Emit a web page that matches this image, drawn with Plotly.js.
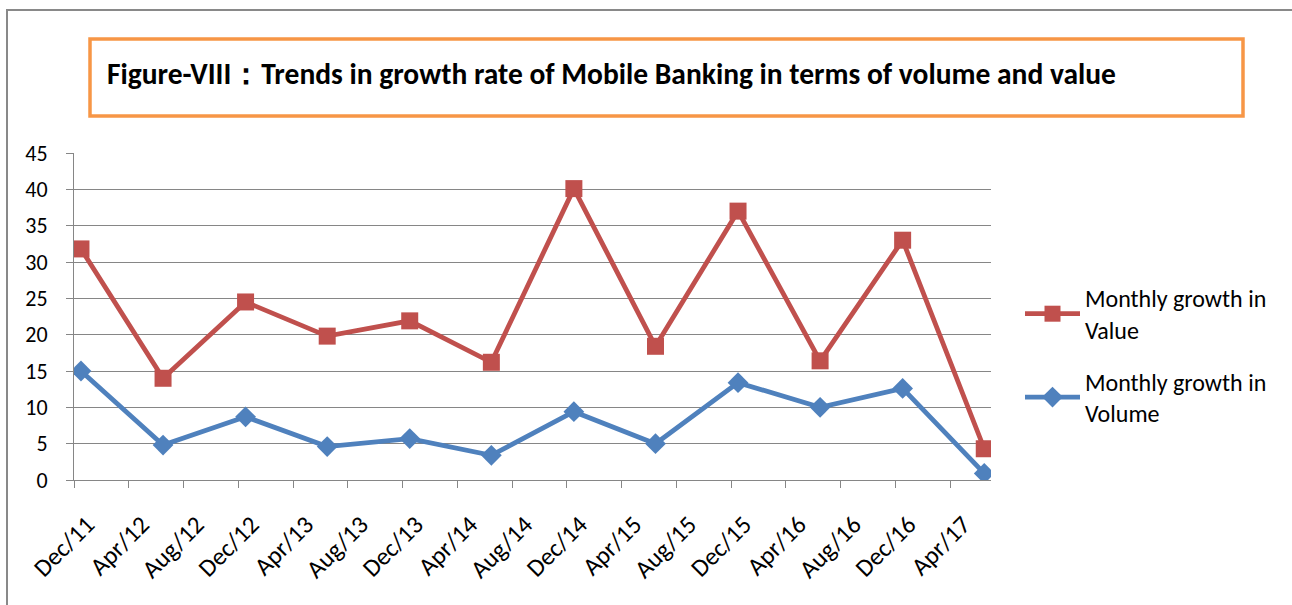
<!DOCTYPE html>
<html>
<head>
<meta charset="utf-8">
<script src="https://cdn.plot.ly/plotly-3.0.1.min.js"></script>
<style>
html,body{margin:0;padding:0;background:#fff;}
#chart{width:1292px;height:605px;}
</style>
</head>
<body>
<div id="chart"></div>
<script>
// Data (semi-annual observations)
var months = ['2011-12-01','2012-06-01','2012-12-01','2013-06-01','2013-12-01','2014-06-01',
              '2014-12-01','2015-06-01','2015-12-01','2016-06-01','2016-12-01','2017-06-01'];
var valueGrowth  = [31.8, 14.0, 24.5, 19.8, 21.9, 16.2, 40.1, 18.4, 37.0, 16.4, 33.0, 4.3];
var volumeGrowth = [15.0, 4.8, 8.7, 4.6, 5.7, 3.4, 9.4, 5.0, 13.4, 10.0, 12.6, 0.9];
var seriesNames = ['Monthly growth in<br>Value', 'Monthly growth in<br>Volume'];
var titleText = 'Figure-VIII\uFF1ATrends in growth rate of Mobile Banking in terms of volume and value';

var W = 1292, H = 605;
var M = {l: 74, r: W - 991, t: 153, b: H - 480};
var pw = W - M.l - M.r, ph = H - M.t - M.b;
function px(x){ return (x - M.l) / pw; }
function py(y){ return (H - M.b - y) / ph; }

var FONT = 'Carlito, Lato, "Noto Sans", sans-serif';

var traces = [
  {
    x: months, y: valueGrowth, name: seriesNames[0], type: 'scatter', mode: 'lines+markers',
    xperiod: 'M1', xperiodalignment: 'middle', legendgroup: 'a',
    line: {color: '#C0504D', width: 4.8},
    marker: {symbol: 'square', size: 17, color: '#C0504D'}
  },
  {
    x: months, y: volumeGrowth, name: seriesNames[1], type: 'scatter', mode: 'lines+markers',
    xperiod: 'M1', xperiodalignment: 'middle', legendgroup: 'b',
    line: {color: '#4F81BD', width: 4.8},
    marker: {symbol: 'diamond', size: 16, color: '#4F81BD'}
  }
];

var layout = {
  width: W, height: H,
  margin: M,
  paper_bgcolor: '#fff', plot_bgcolor: '#fff',
  font: {family: FONT, color: '#000'},
  showlegend: true,
  title: {
    text: '<b>' + titleText + '</b>',
    xref: 'container', yref: 'container',
    x: 107 / W, xanchor: 'left',
    y: 1 - 74 / H, yanchor: 'middle',
    font: {family: FONT, size: 29.5, color: '#000'}
  },
  xaxis: {
    type: 'date',
    range: ['2011-12-01', '2017-07-01'],
    tick0: '2011-12-01', dtick: 'M4',
    tickformat: '%b/%y',
    tickangle: -45,
    ticks: 'outside', ticklen: 7, tickcolor: '#868686', tickwidth: 1,
    showgrid: false,
    showline: true, linecolor: '#868686', linewidth: 1,
    ticklabelstandoff: 12, ticklabelshift: 13,
    tickfont: {family: FONT, size: 25, color: '#000'},
    zeroline: false, fixedrange: true
  },
  yaxis: {
    range: [0, 45], dtick: 5, tick0: 0,
    ticks: 'outside', ticklen: 7, tickcolor: '#868686', tickwidth: 1,
    showgrid: true, gridcolor: '#868686', gridwidth: 1,
    showline: true, linecolor: '#868686', linewidth: 1,
    zeroline: false,
    ticklabelstandoff: 14,
    tickfont: {family: FONT, size: 22, color: '#000'},
    fixedrange: true
  },
  legend: {
    x: px(1020), xanchor: 'left',
    y: py(276), yanchor: 'top',
    traceorder: 'grouped', tracegroupgap: 18,
    itemwidth: 55,
    font: {family: FONT, size: 24, color: '#000'},
    bgcolor: 'rgba(0,0,0,0)'
  },
  shapes: [
    {type: 'rect', xref: 'paper', yref: 'paper',
     x0: px(7), x1: px(1300), y0: py(620), y1: py(10),
     line: {color: '#898989', width: 2}, fillcolor: 'rgba(0,0,0,0)', layer: 'below'},
    {type: 'rect', xref: 'paper', yref: 'paper',
     x0: px(90), x1: px(1243), y0: py(116), y1: py(39),
     line: {color: '#F79646', width: 3.5}, fillcolor: 'rgba(0,0,0,0)'}
  ]
};

Plotly.newPlot('chart', traces, layout, {displayModeBar: false, staticPlot: true});
</script>
</body>
</html>
